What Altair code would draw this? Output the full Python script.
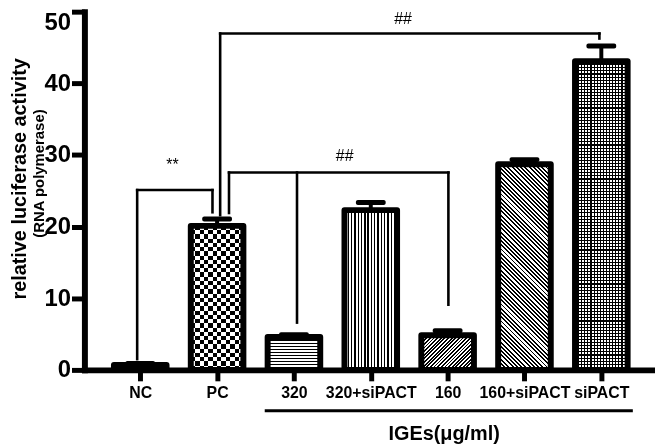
import json
import altair as alt
import pandas as pd

# ---------------- data ----------------
categories = ["NC", "PC", "320", "320+siPACT", "160", "160+siPACT", "siPACT"]
values = [0.7, 20.1, 4.6, 22.3, 4.85, 28.7, 43.1]
errors = [0.2, 0.95, 0.3, 1.05, 0.6, 0.65, 2.1]

# significance brackets (segments in data units: category index / y value)
seg_x = [-0.04, -0.04, 0.94, 1.04, 1.04, 5.975, 1.155, 1.155, 4.01, 2.04]
seg_x2 = [-0.04, 0.94, 0.94, 1.04, 5.975, 5.975, 1.155, 4.01, 4.01, 2.04]
seg_y = [1.5, 25.1, 25.1, 21.6, 46.95, 46.95, 21.9, 27.55, 27.55, 27.55]
seg_y2 = [25.1, 25.1, 22.0, 46.95, 46.95, 46.25, 27.55, 27.55, 9.1, 6.6]

note_text = ["**", "##", "##"]
note_x = [0.42, 3.42, 2.66]
note_y = [28.6, 49.0, 29.8]

group_line_x = [1.62]
group_line_x2 = [6.41]
group_line_y = [-5.7]

y_title_1 = "relative luciferase activity"
y_title_2 = ["(RNA polymerase)"]
y_title_2_x = [-1.32]
y_title_2_y = [27.4]
x_title = "IGEs(\u03bcg/ml)"

# ---------------- geometry / style ----------------
W, H = 575, 361
XDOM = [-0.662, 6.634]
YDOM = [0, 50]
BAR_W = 53
PX_PER_Y = H / (YDOM[1] - YDOM[0])
FONT = "Liberation Sans"

df = pd.DataFrame({
    "idx": list(range(len(categories))),
    "cat": categories,
    "value": values,
    "err": errors,
})
df["top"] = df["value"] + df["err"]

seg_df = pd.DataFrame({"x": seg_x, "x2": seg_x2, "y": seg_y, "y2": seg_y2})
note_df = pd.DataFrame({"t": note_text, "x": note_x, "y": note_y})
grp_df = pd.DataFrame({"x": group_line_x, "x2": group_line_x2, "y": group_line_y})
t2_df = pd.DataFrame({"t": y_title_2, "x": y_title_2_x, "y": y_title_2_y})

xscale = alt.Scale(domain=XDOM, nice=False, zero=False)
yscale = alt.Scale(domain=YDOM, nice=False)

label_expr = json.dumps(categories) + "[datum.value]"

x_axis = alt.Axis(
    values=list(range(len(categories))), labelExpr=label_expr, labelOverlap=False,
    labelFlush=False, grid=False, domainColor="black", domainWidth=6, domainCap="square",
    tickColor="black", tickWidth=5, tickSize=11, labelFont=FONT, labelFontSize=16,
    labelFontWeight="bold", labelColor="black", labelPadding=4,
    title=x_title, titleFont=FONT, titleFontSize=20, titleFontWeight="bold",
    titleColor="black", titleX=362, titleY=64, titleAlign="center", titleBaseline="middle",
)
y_axis = alt.Axis(
    values=[0, 10, 20, 30, 40, 50], labelFlush=False, grid=False, domainColor="black",
    domainWidth=6, domainCap="square", tickColor="black", tickWidth=5, tickSize=13,
    labelFont=FONT, labelFontSize=24, labelFontWeight="bold", labelColor="black",
    labelPadding=1,
    labelOffset={"condition": {"test": "datum.value == 50", "value": 11}, "value": 0},
    title=y_title_1, titleFont=FONT, titleFontSize=20,
    titleFontWeight="bold", titleColor="black", titleAngle=270, titleX=-65, titleY=168,
    titleAlign="center", titleBaseline="middle",
)


def XQ(field):
    return alt.X(field, scale=xscale, axis=x_axis)


def YQ(field):
    return alt.Y(field, scale=yscale, axis=y_axis, stack=None)


def stripes(n, duty, c1, c2, x1, y1, x2, y2):
    stops = []
    for i in range(n):
        a, b, c = i / n, (i + duty) / n, (i + 1) / n
        stops += [
            {"offset": round(a, 5), "color": c1},
            {"offset": round(b, 5), "color": c1},
            {"offset": round(b, 5), "color": c2},
            {"offset": round(c, 5), "color": c2},
        ]
    return {"gradient": "linear", "x1": x1, "y1": y1, "x2": x2, "y2": y2, "stops": stops}


def hstripes(h_px, period, duty, c1="black", c2="white"):
    return stripes(max(1, round(h_px / period)), duty, c1, c2, 0, 0, 0, 1)


def vstripes(w_px, period, duty, c1="black", c2="white"):
    return stripes(max(1, round(w_px / period)), duty, c1, c2, 0, 0, 1, 0)


def diag(w, h, period, duty, up=True):
    k = (w + h) / (w * w + h * h)
    n = max(1, round((w + h) / 2 ** 0.5 / period))
    if up:   # "/" lines
        return stripes(n, duty, "black", "white", 0, 0, round(k * w, 5), round(k * h, 5))
    return stripes(n, duty, "black", "white", 0, 1, round(k * w, 5), round(1 - k * h, 5))


base = alt.Chart(df)

layers = [
    base.mark_bar(size=BAR_W, orient="vertical", fill="white").encode(
        x=XQ("idx:Q"), y=YQ("value:Q"))
]


def pattern_layer(i, fill, **kw):
    return base.transform_filter(f"datum.idx == {i}").mark_bar(
        size=BAR_W, orient="vertical", fill=fill, strokeWidth=0, **kw
    ).encode(x=XQ("idx:Q"), y=YQ("value:Q"))


hpx = [v * PX_PER_Y for v in values]
# PC: checkerboard (horizontal stripes xor vertical stripes)
layers.append(pattern_layer(1, hstripes(hpx[1], 8.5, 0.5)))
layers.append(pattern_layer(1, vstripes(BAR_W, 8.5, 0.5, "white", "rgba(0,0,0,0)"), blend="difference"))
# 320: horizontal lines
layers.append(pattern_layer(2, hstripes(hpx[2], 3.0, 0.4)))
# 320+siPACT: vertical lines
layers.append(pattern_layer(3, vstripes(BAR_W, 3.3, 0.4)))
# 160: "/" hatching
layers.append(pattern_layer(4, diag(BAR_W, hpx[4], 2.6, 0.5, up=True)))
# 160+siPACT: "\" hatching
layers.append(pattern_layer(5, diag(BAR_W, hpx[5], 3.0, 0.45, up=False)))
# siPACT: fine grid
layers.append(pattern_layer(6, vstripes(BAR_W, 3.1, 0.35, "black", "rgba(0,0,0,0)")))
layers.append(pattern_layer(6, hstripes(hpx[6], 3.1, 0.35, "black", "rgba(0,0,0,0)")))

# outlines
layers.append(
    base.mark_bar(size=BAR_W, orient="vertical", fill="white", fillOpacity=0,
                  stroke="black", strokeWidth=6, strokeJoin="round").encode(
        x=XQ("idx:Q"), y=YQ("value:Q"))
)

# error bars
layers.append(
    base.mark_rule(color="black", strokeWidth=4).encode(
        x=XQ("idx:Q"), y=YQ("value:Q"), y2="top:Q")
)
layers.append(
    base.mark_tick(color="black", orient="horizontal", size=30, thickness=5,
                   cornerRadius=2, opacity=1).encode(
        x=XQ("idx:Q"), y=YQ("top:Q"))
)

# significance brackets
layers.append(
    alt.Chart(seg_df).mark_rule(color="black", strokeWidth=2.6, strokeCap="square").encode(
        x=XQ("x:Q"), x2="x2:Q", y=YQ("y:Q"), y2="y2:Q")
)
layers.append(
    alt.Chart(note_df).mark_text(font=FONT, fontSize=16, color="black",
                                 baseline="middle", align="center").encode(
        x=XQ("x:Q"), y=YQ("y:Q"), text="t:N")
)
# group underline for IGEs doses
layers.append(
    alt.Chart(grp_df).mark_rule(color="black", strokeWidth=3).encode(
        x=XQ("x:Q"), x2="x2:Q", y=YQ("y:Q"))
)
# second line of the y-axis title
layers.append(
    alt.Chart(t2_df).mark_text(font=FONT, fontSize=15, fontWeight="bold", color="black",
                               angle=270, baseline="middle", align="center").encode(
        x=XQ("x:Q"), y=YQ("y:Q"), text="t:N")
)

chart = alt.layer(*layers).properties(
    width=W, height=H,
    autosize=alt.AutoSizeParams(type="none"),
    padding={"left": 77, "top": 2, "right": 0, "bottom": 76},
    background="white",
).configure_view(stroke=None)

chart.save("out.html", embed_options={"renderer": "svg", "actions": False})
